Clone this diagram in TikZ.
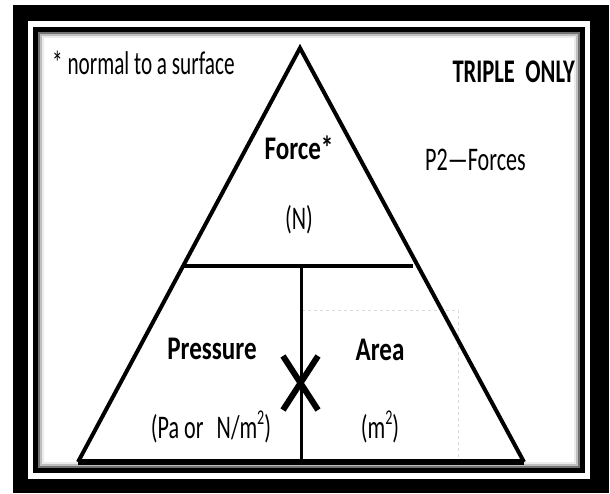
\documentclass[tikz,border=0pt]{standalone}
\usepackage{fontspec}
\setmainfont{Carlito}[FakeStretch=0.67,BoldFeatures={FakeStretch=0.76}]
\newcommand{\supnum}[1]{\raisebox{0.42em}{\fontsize{21}{21}\selectfont #1}}
\begin{document}
\begin{tikzpicture}[x=1pt,y=-1pt,
  lbl/.style={inner sep=0pt,font=\fontsize{33}{36}\selectfont},
  blbl/.style={lbl,font=\fontsize{33}{36}\selectfont\bfseries},
  tri/.style={line width=4pt,line join=miter},
  bar/.style={line width=4.5pt},
  vline/.style={line width=3pt},
  cross/.style={line width=6pt},
  guide/.style={black!15,line width=0.8pt,dashed}]
\useasboundingbox (0,0) rectangle (610,493);
% frame
\fill[black] (13,5) rectangle (609,493);
\fill[white] (28,21) rectangle (590,479);
\fill[black] (33,27) rectangle (585,473);
\fill[white] (38,32) rectangle (580,468);
\draw[black!55,line width=2pt] (39,33) rectangle (579,467);
\draw[black!25,line width=2pt] (41,35) rectangle (577,465);
\draw[black!8,line width=2pt] (43,37) rectangle (575,463);
% guide
\coordinate (g1) at (302,310);
\coordinate (g2) at (458,310);
\coordinate (g3) at (458,461);
\draw[guide] (g1) -- (g2) -- (g3);
% triangle
\coordinate (apex) at (300,48);
\coordinate (bl) at (78,462);
\coordinate (br) at (524,462);
\draw[tri] (bl) -- (apex) -- (br);
\draw[line width=5.5pt] (bl) -- (br);
\coordinate (hl) at (184,266);
\coordinate (hr) at (413,266);
\draw[bar] (hl) -- (hr);
\coordinate (vt) at (301,266);
\coordinate (vb) at (301,462);
\draw[vline] (vt) -- (vb);
% cross
\coordinate (c1) at (283,356);
\coordinate (c2) at (318,410);
\coordinate (c3) at (318,356);
\coordinate (c4) at (283,410);
\draw[cross] (c1) -- (c2);
\draw[cross] (c3) -- (c4);
% texts
\node[lbl,anchor=base west] (note) at (52,74) {\scalebox{0.96}[1]{* normal to a surface}};
\node[blbl,anchor=base east] (triple) at (575,82) {\scalebox{0.9}[1]{TRIPLE\hspace{0.35em}ONLY}};
\node[lbl,anchor=base west] (p2) at (425,170) {P2—Forces};
\node[blbl,anchor=base] (force) at (299,159) {Force*};
\node[lbl,anchor=base] (n) at (299,229) {(N)};
\node[blbl,anchor=base] (press) at (212,359) {Pressure};
\node[lbl,anchor=base] (pa) at (211,438) {(Pa or\hspace{0.4em}N/m\supnum{2})};
\node[blbl,anchor=base] (area) at (380,360) {Area};
\node[lbl,anchor=base] (m2) at (380,438) {(m\supnum{2})};
\end{tikzpicture}
\end{document}
